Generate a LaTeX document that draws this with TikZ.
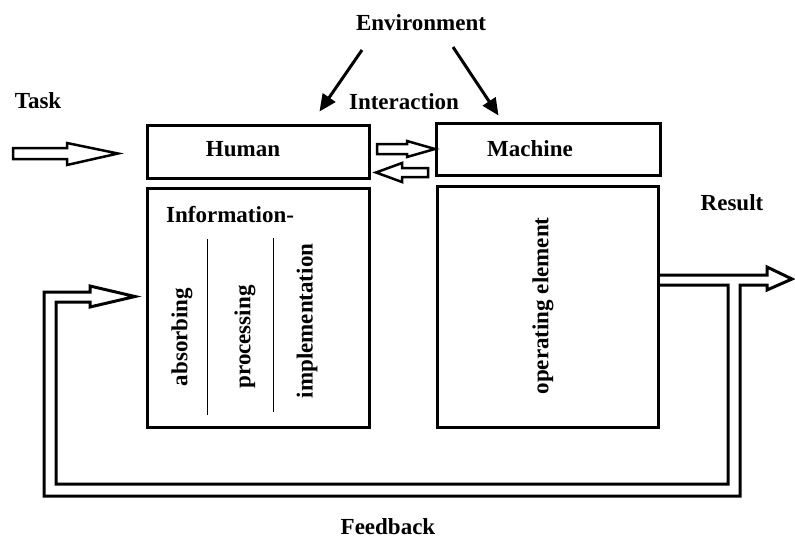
\documentclass[tikz,border=0pt]{standalone}
\usepackage{fontspec}
\setmainfont{Liberation Serif}
\usetikzlibrary{arrows.meta}

\tikzset{
  box/.style={draw, line width=3pt, inner sep=0pt},
  lbl/.style={font=\fontsize{23}{27}\selectfont\bfseries, inner sep=0pt},
  hollow/.style={draw, fill=white, line width=2.5pt, line join=miter},
  envarrow/.style={line width=3pt, -{Triangle[length=17pt,width=15pt]}}
}

\begin{document}
\begin{tikzpicture}[x=1pt, y=-1pt]
    \useasboundingbox (0,0) rectangle (795,539);
    % boxes
    \node[box, minimum width=222pt, minimum height=53pt] (human) at (258,151.5) {};
    \node[box, minimum width=224pt, minimum height=52pt] (machine) at (548,149) {};
    \node[box, minimum width=222pt, minimum height=239pt] (info) at (258,307.5) {};
    \node[box, minimum width=221pt, minimum height=241pt] (operating) at (547.5,306.5) {};
    \node[lbl] (humantxt) at (243,149) {Human};
    \node[lbl] (machinetxt) at (530,149) {Machine};
    \node[lbl, anchor=west] (infotxt) at (166,215) {Information-};
    % columns
    \draw[line width=1pt] (207,239) -- (207,415);
    \draw[line width=1pt] (273,238) -- (273,412);
    \node[lbl, rotate=90] (absorb) at (182,337) {absorbing};
    \node[lbl, rotate=90] (process) at (245,337) {processing};
    \node[lbl, rotate=90] (implement) at (307,321) {implementation};
    \node[lbl, rotate=90] (operate) at (543,306) {operating element};
    % labels
    \node[lbl] (env) at (421,23) {Environment};
    \node[lbl] (inter) at (404,102) {Interaction};
    \node[lbl] (task) at (38,101) {Task};
    \node[lbl] (result) at (732,203) {Result};
    \node[lbl] (feedback) at (388,527) {Feedback};
    % environment
    \draw[envarrow] ([xshift=-59pt,yshift=-27pt]env.center) -- ([xshift=-51pt,yshift=12pt]human.north east);
    \draw[envarrow] ([xshift=32pt,yshift=-24pt]env.center) -- ([xshift=64pt,yshift=6pt]machine.north west);
    % block arrows
    \draw[hollow] (13,148) -- (67,148) -- (67,143) -- (118,153.5) -- (67,165) -- (67,159) -- (13,159) -- cycle;
    \draw[hollow] (377,144) -- (407,144) -- (407,141) -- (435,149) -- (407,157) -- (407,154) -- (377,154) -- cycle;
    \draw[hollow] (428,168) -- (402,168) -- (402,163) -- (376,172.5) -- (402,182) -- (402,177) -- (428,177) -- cycle;
    % result and feedback
    \draw[line width=3pt, line join=miter] (operating.east |- 0,275) -- (767,275) -- (767,267) -- (792,279)
        -- (767,290) -- (767,285) -- (740,285) -- (740,496) -- (44,496) -- (44,292) -- (90,292)
        -- (90,286) -- (135,296.5) -- (90,307) -- (90,302) -- (56,302) -- (56,484) -- (728,484)
        -- (728,285) -- (operating.east |- 0,285);
\end{tikzpicture}
\end{document}
